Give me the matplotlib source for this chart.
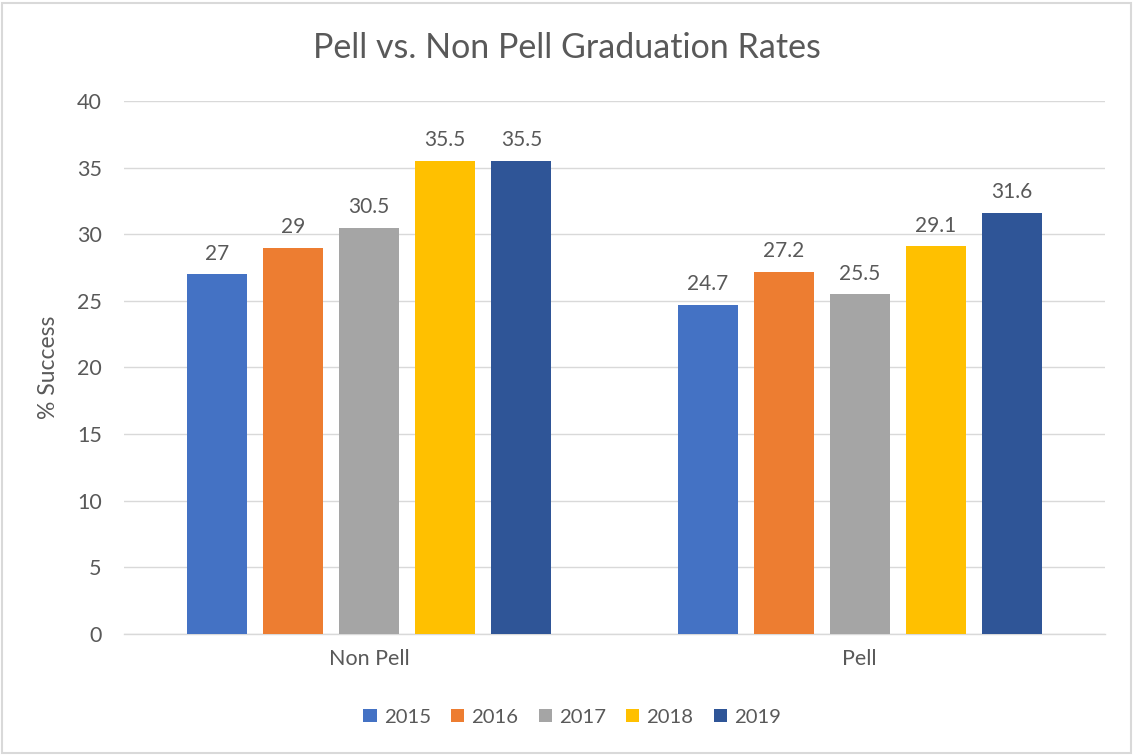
import matplotlib
matplotlib.use("Agg")
import matplotlib.pyplot as plt
import numpy as np
from matplotlib.patches import Rectangle

categories = ["Non Pell", "Pell"]
years = ["2015", "2016", "2017", "2018", "2019"]
values = {
    "2015": [27, 24.7],
    "2016": [29, 27.2],
    "2017": [30.5, 25.5],
    "2018": [35.5, 29.1],
    "2019": [35.5, 31.6],
}
colors = ["#4472C4", "#ED7D31", "#A5A5A5", "#FFC000", "#2F5597"]
yticks = [0, 5, 10, 15, 20, 25, 30, 35, 40]

plt.rcParams['font.family'] = ['Lato', 'DejaVu Sans']
txt = "#595959"

fig = plt.figure(figsize=(11.33, 7.55), dpi=100)
ax = fig.add_axes([0.1094, 0.1603, 0.8659, 0.7059])
fig.patches.append(Rectangle((0.002, 0.002), 0.996, 0.994, transform=fig.transFigure,
                             fill=False, edgecolor="#D9D9D9", linewidth=1.5))

x = np.arange(len(categories))
step = 0.155
width = 0.122
for i, (yr, c) in enumerate(zip(years, colors)):
    pos = x + (i - 2) * step
    bars = ax.bar(pos, values[yr], width, color=c, label=yr, zorder=3)
    for b, v in zip(bars, values[yr]):
        ax.text(b.get_x() + b.get_width() / 2, v + 0.8, f"{v:g}", ha="center",
                va="bottom", fontsize=15, color=txt)

ax.set_xlim(-0.5, 1.5)
ax.set_ylim(0, 40)
ax.set_yticks(yticks)
ax.set_yticklabels([str(t) for t in yticks], fontsize=15.5, color=txt)
ax.set_xticks(x)
ax.set_xticklabels(categories, fontsize=15.5, color=txt)
ax.tick_params(axis="both", length=0)
ax.tick_params(axis="y", pad=16)
ax.tick_params(axis="x", pad=11)
ax.grid(axis="y", color="#D9D9D9", linewidth=1, zorder=0)
for s in ["top", "right", "left"]:
    ax.spines[s].set_visible(False)
ax.spines["bottom"].set_color("#D9D9D9")
ax.spines["bottom"].set_linewidth(1)
ax.set_ylabel("% Success", fontsize=16.5, color=txt, labelpad=13)
fig.text(0.5, 0.937, "Pell vs. Non Pell Graduation Rates", ha="center", va="center",
         fontsize=24.5, color=txt)
handles, labels = ax.get_legend_handles_labels()
leg = fig.legend(handles, labels, loc="center", bbox_to_anchor=(0.505, 0.05), ncol=5,
                 frameon=False, fontsize=14.6, handlelength=0.65, handleheight=0.65,
                 handletextpad=0.35, columnspacing=1.0)
for t in leg.get_texts():
    t.set_color(txt)

fig.savefig("out.png", dpi=100)
